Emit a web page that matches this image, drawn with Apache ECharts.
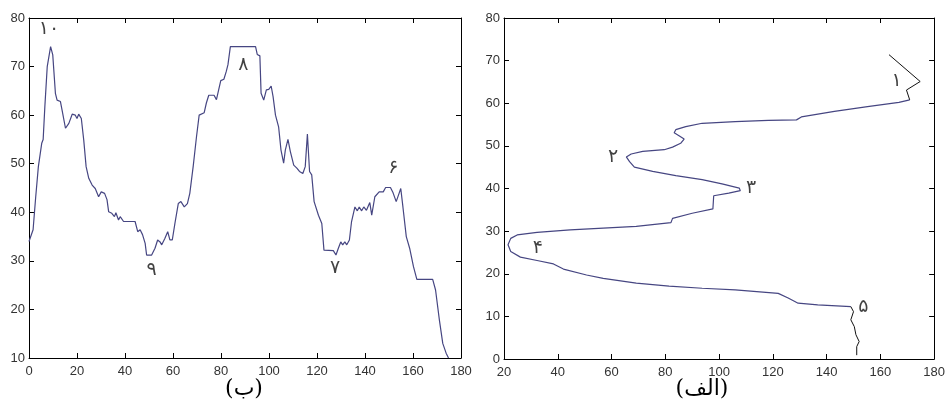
<!DOCTYPE html>
<html>
<head>
<meta charset="utf-8">
<script src="https://cdn.jsdelivr.net/npm/echarts@6/dist/echarts.min.js"></script>
<style>
  html, body { margin: 0; padding: 0; background: #fff; }
  #chart { width: 948px; height: 401px; }
</style>
</head>
<body>
<div id="chart"></div>
<script>
// left panel (ب): profile, [x, y]
const leftCurve = [
  [0, 34], [0.7, 34.3], [1.7, 36.4], [2.8, 43.2], [3.9, 49.4], [5.3, 54.2], [5.9, 55],
  [6.6, 61.7], [7.6, 70], [9, 74.1], [9.9, 72.4], [11, 64.5], [11.7, 63.1], [13.1, 62.8],
  [13.8, 61], [15.2, 57.3], [16.6, 58.3], [18, 60.2], [19.3, 60], [20, 59.3], [20.7, 60.2],
  [21.8, 59.3], [22.8, 54.9], [23.8, 49.4], [24.9, 47], [26.3, 45.6], [27.6, 44.9], [29, 43.2],
  [30.1, 44.2], [31.5, 43.9], [32.5, 42.6], [33.2, 40.1], [34.5, 39.8], [35.6, 39.1], [36.2, 39.9],
  [37.3, 38.4], [38, 39.1], [39.4, 38.1], [44.2, 38.1], [45.3, 36], [46.3, 36.4], [47.3, 35.4],
  [48.4, 33.6], [49, 31.2], [51.1, 31.2], [52.5, 32.6], [53.6, 34.3], [54.6, 33.9], [55.3, 33.3],
  [56.6, 34.6], [57.8, 36], [58.7, 34.3], [59.7, 34.3], [60.8, 37.7], [62.2, 41.8], [63.3, 42.2],
  [64.7, 41.1], [66, 41.8], [67, 43.9], [68.4, 49.4], [69.8, 55.6], [70.9, 60], [73, 60.5],
  [73.9, 62.5], [74.9, 64.1], [77.1, 64.1], [78.1, 63.2], [78.8, 63.1], [79.9, 67.1], [81.2, 67.4],
  [82.2, 69], [82.9, 70.4], [83.9, 74.1], [94.4, 74.1], [95.1, 72.5], [96.2, 72.2], [96.7, 64.5],
  [97.8, 63.1], [98.9, 65.2], [99.9, 65.3], [100.9, 66], [101.7, 63.8], [102.7, 60], [104, 57.6],
  [105, 52.8], [106.1, 50.1], [106.8, 52.8], [107.9, 55], [108.9, 52.5], [110.3, 49.7], [111.6, 49.1],
  [112.7, 48.4], [114.1, 48], [115.1, 49.4], [116, 56.1], [116.9, 48.4], [117.8, 47.7], [118.8, 42.2],
  [120.6, 39.4], [122, 37.7], [122.9, 32.2], [126.8, 32.1], [127.9, 31.2], [128.9, 32.6], [129.9, 33.9],
  [130.7, 33.3], [131.6, 33.9], [132.4, 33.3], [133.5, 34.3], [134.4, 38.1], [135.8, 41.1], [136.8, 40.3],
  [137.6, 41.1], [138.6, 40.3], [139.5, 41.1], [140.6, 40.4], [142, 42], [142.8, 39.4], [144.1, 43.2],
  [145.9, 44.2], [147.6, 44.2], [148.6, 45.1], [150.6, 45.1], [151.7, 44], [153, 42.2], [154.2, 43.9],
  [154.9, 44.9], [155.8, 41.1], [157.2, 35], [158.6, 32.6], [160.2, 28.8], [161.6, 26.2], [168.2, 26.2],
  [169.4, 24], [171, 17.8], [172.4, 13], [173.8, 11], [174.8, 10]
];

// right panel (الف): contour, [x, y] ordered top to bottom
const rightTop = [[163.2, 71.4], [174.8, 65.1], [169.7, 63.1], [170.9, 60.8]];
const rightCurve = [
  [170.9, 60.8], [166.9, 60.2], [155.2, 59.2], [142.9, 58.1], [130.6, 56.8], [128.8, 56.1],
  [118.3, 56], [106, 55.7], [93.7, 55.3], [87.6, 54.5], [83.9, 53.8], [83.3, 53.1], [85.1, 52.4],
  [87, 51.6], [85.7, 50.6], [82.7, 49.7], [79.6, 49.1], [71.6, 48.7], [67.3, 48.1], [65.5, 47.4],
  [66.7, 46.3], [68.5, 45], [75.3, 44], [83.9, 43], [93.7, 42.1], [101.1, 41.1], [107.5, 40.1],
  [107.9, 39.5], [103.6, 38.9], [98, 38.3], [97.7, 35.2], [90, 34.2], [82.7, 33], [82.1, 32],
  [69.2, 31.1], [56.9, 30.7], [44.6, 30.3], [32.3, 29.7], [24.9, 29.1], [22.5, 28.3], [21.5, 26.8],
  [22.5, 25.2], [26.1, 23.9], [32.3, 23.1], [38.4, 22.3], [42.1, 21.1], [50.7, 19.7], [56.9, 18.9],
  [69.2, 17.8], [81.4, 17.1], [93.7, 16.6], [106, 16.2], [122, 15.4], [125.7, 14.3], [129.4, 13.1],
  [136.7, 12.7], [149, 12.3]
];
const rightBottom = [[149, 12.3], [150, 11.1], [149, 9.2], [150.3, 7.6], [150.9, 5.7], [152.1, 4.1], [151.2, 2.9], [151.2, 0.9]];

// numbered points (Persian digits): [label, x, y]
const leftMarks = [['۱۰', 8.3, 77.7], ['۸', 89.3, 70.3], ['۹', 51.1, 28.1], ['۷', 127.5, 28.5], ['۶', 151.8, 49.1]];
const rightMarks = [['۱', 166, 65.1], ['۲', 60.6, 47.3], ['۳', 111.9, 40.1], ['۴', 32.6, 26], ['۵', 153.7, 12.3]];

const lineColor = '#464682';
const tickFont = { fontFamily: 'Liberation Sans', fontSize: 13, color: '#333' };

function mainAxis(idx, pos, min, max, interval) {
  return {
    type: 'value', gridIndex: idx, position: pos, min: min, max: max, interval: interval,
    axisLine: { show: true, onZero: false, lineStyle: { color: '#000', width: 1 } },
    axisTick: { show: true, inside: true, length: 5, lineStyle: { color: '#000' } },
    axisLabel: Object.assign({ show: true, margin: pos === 'bottom' ? 7 : 4, showMinLabel: true, showMaxLabel: true, hideOverlap: false }, tickFont),
    splitLine: { show: false }
  };
}
function boxAxis(idx, pos, min, max, interval) {
  return {
    type: 'value', gridIndex: idx, position: pos, min: min, max: max, interval: interval,
    axisLine: { show: true, onZero: false, lineStyle: { color: '#000', width: 1 } },
    axisTick: { show: true, inside: true, length: 5, lineStyle: { color: '#000' } },
    axisLabel: { show: false },
    splitLine: { show: false }
  };
}
function markSeries(xi, yi, list) {
  return {
    type: 'scatter', xAxisIndex: xi, yAxisIndex: yi,
    data: list.map(m => ({ name: m[0], value: [m[1], m[2]] })),
    symbolSize: 1,
    itemStyle: { color: 'rgba(0,0,0,0)' },
    label: {
      show: true, position: 'inside', formatter: p => p.name,
      fontFamily: 'DejaVu Sans', fontSize: 19, color: '#111'
    },
    silent: true, z: 5
  };
}

const chart = echarts.init(document.getElementById('chart'));
chart.setOption({
  animation: false,
  backgroundColor: '#fff',
  grid: [
    { left: 29, top: 18, width: 432, height: 340 },
    { left: 504, top: 18, width: 434, height: 341 }
  ],
  xAxis: [
    mainAxis(0, 'bottom', 0, 180, 20),
    boxAxis(0, 'top', 0, 180, 20),
    mainAxis(1, 'bottom', 20, 180, 20),
    boxAxis(1, 'top', 20, 180, 20)
  ],
  yAxis: [
    mainAxis(0, 'left', 10, 80, 10),
    boxAxis(0, 'right', 10, 80, 10),
    mainAxis(1, 'left', 0, 80, 10),
    boxAxis(1, 'right', 0, 80, 10)
  ],
  series: [
    {
      type: 'line', xAxisIndex: 0, yAxisIndex: 0, data: leftCurve,
      showSymbol: false, lineStyle: { color: lineColor, width: 1.2 }
    },
    {
      type: 'line', xAxisIndex: 2, yAxisIndex: 2, data: rightCurve,
      showSymbol: false, lineStyle: { color: lineColor, width: 1.2 }
    },
    {
      type: 'line', xAxisIndex: 2, yAxisIndex: 2, data: rightTop,
      showSymbol: false, lineStyle: { color: '#111', width: 1 }
    },
    {
      type: 'line', xAxisIndex: 2, yAxisIndex: 2, data: rightBottom,
      showSymbol: false, lineStyle: { color: '#111', width: 1 }
    },
    markSeries(0, 0, leftMarks),
    markSeries(2, 2, rightMarks)
  ],
  graphic: [
    { type: 'text', x: 244, y: 389, style: { text: '(ب)', font: '22px "DejaVu Serif", "DejaVu Sans"', fill: '#000', align: 'center', verticalAlign: 'middle' } },
    { type: 'text', x: 702, y: 389, style: { text: '(الف)', font: '22px "DejaVu Serif", "DejaVu Sans"', fill: '#000', align: 'center', verticalAlign: 'middle' } }
  ]
});
</script>
</body>
</html>
